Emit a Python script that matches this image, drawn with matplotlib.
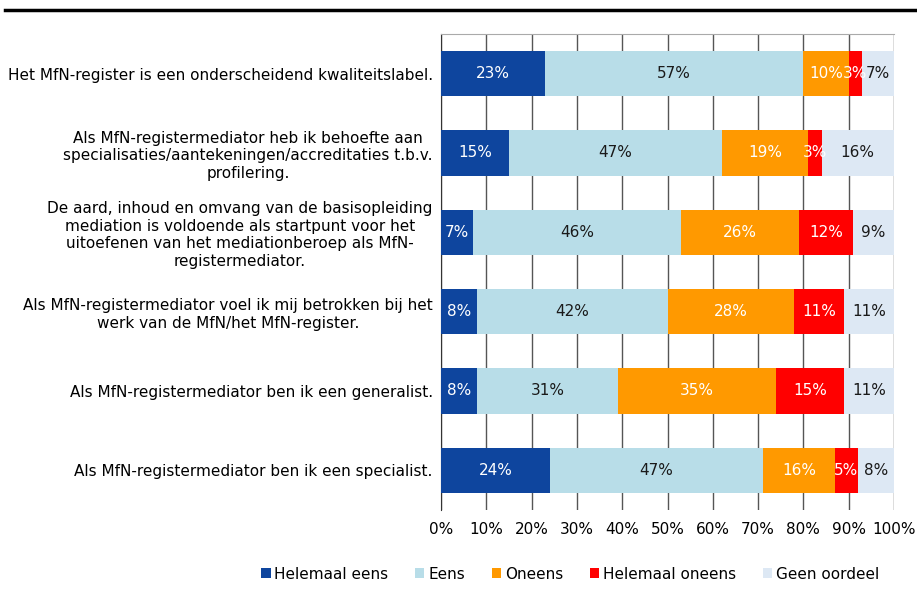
import matplotlib
matplotlib.use("Agg")
import matplotlib.pyplot as plt
from matplotlib.lines import Line2D
import numpy as np

statements = [
    "Het MfN-register is een onderscheidend kwaliteitslabel.",
    "Als MfN-registermediator heb ik behoefte aan\nspecialisaties/aantekeningen/accreditaties t.b.v.\nprofilering.",
    "De aard, inhoud en omvang van de basisopleiding\nmediation is voldoende als startpunt voor het\nuitoefenen van het mediationberoep als MfN-\nregistermediator.",
    "Als MfN-registermediator voel ik mij betrokken bij het\nwerk van de MfN/het MfN-register.",
    "Als MfN-registermediator ben ik een generalist.",
    "Als MfN-registermediator ben ik een specialist.",
]
categories = ["Helemaal eens", "Eens", "Oneens", "Helemaal oneens", "Geen oordeel"]
helemaal_eens = [23, 15, 7, 8, 8, 24]
eens = [57, 47, 46, 42, 31, 47]
oneens = [10, 19, 26, 28, 35, 16]
helemaal_oneens = [3, 3, 12, 11, 15, 5]
geen_oordeel = [7, 16, 9, 11, 11, 8]
xticks = [0, 10, 20, 30, 40, 50, 60, 70, 80, 90, 100]

series = [helemaal_eens, eens, oneens, helemaal_oneens, geen_oordeel]
colors = ["#0E459E", "#B8DDE8", "#FF9900", "#FF0000", "#DDE8F4"]
txtcolors = ["white", "#1a1a1a", "white", "white", "#1a1a1a"]

plt.rcParams["font.family"] = "DejaVu Sans"
plt.rcParams["font.size"] = 11

fig = plt.figure(figsize=(9.17, 5.89), dpi=100)
ax = fig.add_axes([441 / 917, 1 - 510 / 589, (894 - 441) / 917, (510 - 34) / 589])

y = np.arange(len(statements))
left = np.zeros(len(statements))
for vals, col, tc, name in zip(series, colors, txtcolors, categories):
    vals = np.array(vals, dtype=float)
    ax.barh(y, vals, left=left, height=0.57, color=col, label=name, zorder=3)
    for yi, l, v in zip(y, left, vals):
        ax.text(l + v / 2, yi, "%d%%" % v, ha="center", va="center",
                color=tc, fontsize=11, zorder=4)
    left += vals

ax.set_xlim(0, 100)
ax.set_ylim(len(statements) - 0.5, -0.5)
ax.set_xticks(xticks)
ax.set_xticklabels(["%d%%" % t for t in xticks])
ax.set_yticks(y)
ax.set_yticklabels(statements, multialignment="center")
ax.tick_params(axis="y", length=0, pad=6)
ax.tick_params(axis="x", length=0, pad=9)
ax.grid(axis="x", color="#555555", linewidth=1, zorder=0)
for s in ["right", "bottom"]:
    ax.spines[s].set_visible(False)
ax.spines["top"].set_color("#aaaaaa")
ax.spines["left"].set_color("#333333")

# legend sits under the bars, shifted right like the original
ax.legend(loc="upper center", bbox_to_anchor=(0.285, -0.09),
          ncol=5, frameon=False, handlelength=0.6, handleheight=0.6,
          handletextpad=0.25, columnspacing=1.75, fontsize=11)

fig.add_artist(Line2D([5 / 917, 1], [1 - 10 / 589, 1 - 10 / 589], color="black",
                      linewidth=2.5, transform=fig.transFigure))

fig.savefig("out.png", dpi=100)
